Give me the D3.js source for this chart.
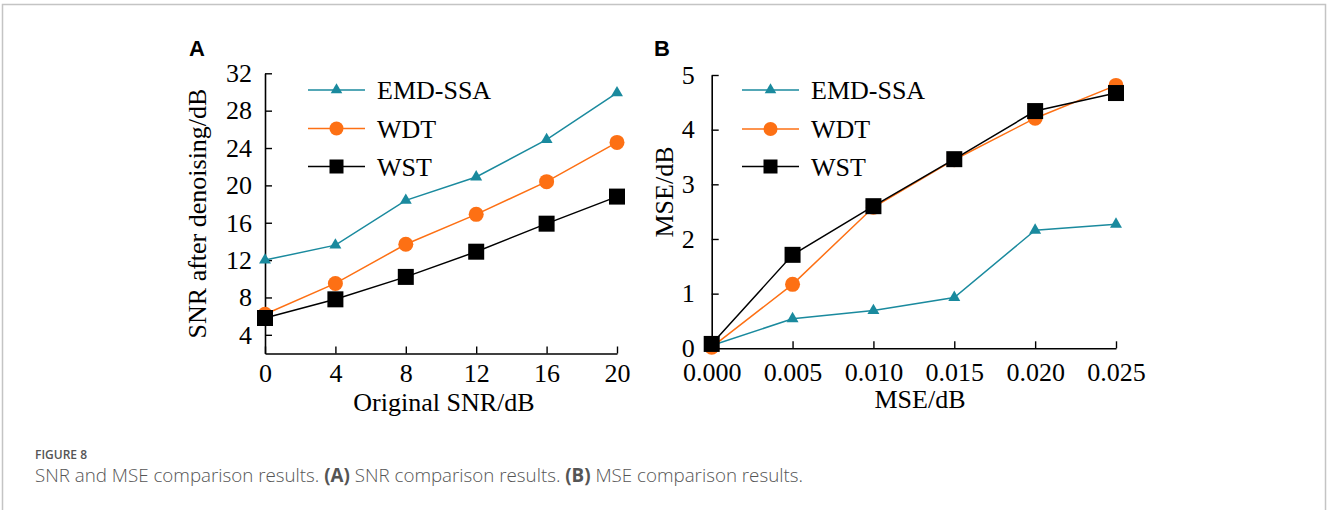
<!DOCTYPE html>
<html>
<head>
<meta charset="utf-8">
<script src="https://cdn.jsdelivr.net/npm/d3@7"></script>
<style>
  body { margin: 0; background: #fff; }
  svg { display: block; }
</style>
</head>
<body>
<svg id="fig" width="1328" height="510"></svg>
<script>
// panel A data
const snrIn = [0, 4, 8, 12, 16, 20];
const snrEmd = [12.0, 13.6, 18.4, 20.9, 24.9, 29.9];
const snrWdt = [6.2, 9.5, 13.7, 16.9, 20.4, 24.6];
const snrWst = [5.8, 7.8, 10.2, 12.9, 15.9, 18.8];
const snrTicksY = [4, 8, 12, 16, 20, 24, 28, 32];

// panel B data
const mseIn = [0, 0.005, 0.01, 0.015, 0.02, 0.025];
const mseEmd = [0.05, 0.54, 0.69, 0.93, 2.16, 2.27];
const mseWdt = [0.02, 1.17, 2.58, 3.45, 4.21, 4.81];
const mseWst = [0.08, 1.71, 2.6, 3.46, 4.34, 4.67];
const mseTicksY = [0, 1, 2, 3, 4, 5];

const seriesNames = ["EMD-SSA", "WDT", "WST"];
const teal = "#1a8a9e", orange = "#fd7014";
const serif = "'Liberation Serif', 'Times New Roman', serif";

const svg = d3.select("#fig");

// outer frame
svg.append("rect")
  .attr("x", 2.5).attr("y", 4.5)
  .attr("width", 1323).attr("height", 520)
  .attr("fill", "none").attr("stroke", "#c4c4c4").attr("stroke-width", 1.5);

const triangle = d3.symbol().type(d3.symbolTriangle);

function drawMarker(g, type, x, y, big) {
  if (type === "tri") {
    g.append("path").attr("d", triangle.size(big ? 62 : 58)())
      .attr("transform", `translate(${x},${y})`).attr("fill", teal);
  } else if (type === "circle") {
    g.append("circle").attr("cx", x).attr("cy", y).attr("r", big ? 7.5 : 7)
      .attr("fill", orange);
  } else {
    const s = big ? 16 : 14;
    g.append("rect").attr("x", x - s / 2).attr("y", y - s / 2)
      .attr("width", s).attr("height", s).attr("fill", "#000");
  }
}

function panel(opt) {
  const g = svg.append("g");
  const x = d3.scaleLinear().domain(opt.xDomain).range(opt.xRange);
  const y = d3.scaleLinear().domain(opt.yDomain).range(opt.yRange);

  const xAxis = g.append("g")
    .attr("transform", `translate(0,${opt.yRange[0]})`)
    .call(d3.axisBottom(x).tickValues(opt.xs).tickFormat(opt.xFormat)
      .tickSizeInner(-7).tickSizeOuter(0).tickPadding(opt.xPad));
  const yAxis = g.append("g")
    .attr("transform", `translate(${opt.xRange[0]},0)`)
    .call(d3.axisLeft(y).tickValues(opt.yTicks).tickFormat(d3.format("d"))
      .tickSizeInner(-7).tickSizeOuter(0).tickPadding(opt.yPad));

  [xAxis, yAxis].forEach(a => {
    a.select(".domain").attr("stroke", "#000").attr("stroke-width", 1.6);
    a.selectAll(".tick line").attr("stroke", "#000").attr("stroke-width", 1.4);
    a.selectAll("text").attr("font-family", serif).attr("font-size", 26).attr("fill", "#000");
  });

  const line = d3.line().x((d, i) => x(opt.xs[i])).y(d => y(d));
  const series = [
    { vals: opt.emd, color: teal, m: "tri" },
    { vals: opt.wdt, color: orange, m: "circle" },
    { vals: opt.wst, color: "#000", m: "square" }
  ];
  // lines first, then markers so WST sits on top
  series.forEach(s => {
    g.append("path").datum(s.vals).attr("d", line)
      .attr("fill", "none").attr("stroke", s.color).attr("stroke-width", 1.5);
  });
  series.forEach(s => {
    s.vals.forEach((v, i) => drawMarker(g, s.m, x(opt.xs[i]), y(v), true));
  });

  // legend
  series.forEach((s, i) => {
    const cy = opt.legY[i];
    g.append("line").attr("x1", opt.legX[0]).attr("x2", opt.legX[1])
      .attr("y1", cy).attr("y2", cy).attr("stroke", s.color).attr("stroke-width", 1.5);
    drawMarker(g, s.m, (opt.legX[0] + opt.legX[1]) / 2, cy, false);
    g.append("text").attr("x", opt.legX[1] + 12).attr("y", cy + 9)
      .attr("font-family", serif).attr("font-size", 26).text(seriesNames[i]);
  });

  // axis titles
  g.append("text").attr("x", opt.xTitle[0]).attr("y", opt.xTitle[1])
    .attr("text-anchor", "middle").attr("font-family", serif).attr("font-size", 26)
    .text(opt.xLabel);
  g.append("text")
    .attr("transform", `translate(${opt.yTitle[0]},${opt.yTitle[1]}) rotate(-90)`)
    .attr("text-anchor", "middle").attr("font-family", serif).attr("font-size", 26)
    .text(opt.yLabel);

  // panel letter
  g.append("text").attr("x", opt.letter[0]).attr("y", opt.letter[1])
    .attr("font-family", "'Liberation Sans', Arial, sans-serif").attr("font-weight", "bold")
    .attr("font-size", 22).text(opt.letter[2]);
}

panel({
  xs: snrIn, emd: snrEmd, wdt: snrWdt, wst: snrWst,
  xDomain: [0, 20], xRange: [265, 617],
  yDomain: [2, 32], yRange: [353.5, 73.3], yTicks: snrTicksY,
  xFormat: d3.format("d"), xPad: 10, yPad: 13,
  legX: [308, 365], legY: [90, 128.5, 166.5],
  xLabel: "Original SNR/dB", xTitle: [444, 411],
  yLabel: "SNR after denoising/dB", yTitle: [206, 213.5],
  letter: [189, 56, "A"]
});

panel({
  xs: mseIn, emd: mseEmd, wdt: mseWdt, wst: mseWst,
  xDomain: [0, 0.025], xRange: [711.7, 1116],
  yDomain: [0, 5], yRange: [348.3, 75], yTicks: mseTicksY,
  xFormat: d3.format(".3f"), xPad: 14, yPad: 17,
  legX: [742, 799], legY: [90, 129, 166.5],
  xLabel: "MSE/dB", xTitle: [920, 408],
  yLabel: "MSE/dB", yTitle: [673, 192],
  letter: [654, 56, "B"]
});

// caption
const capFont = "'Open Sans', 'Noto Sans', sans-serif";
svg.append("text").attr("x", 35).attr("y", 459)
  .attr("font-family", capFont).attr("font-size", 12).attr("font-weight", 600)
  .attr("fill", "#555").text("FIGURE 8");

const cap = svg.append("text").attr("x", 35).attr("y", 482)
  .attr("font-family", capFont).attr("font-size", 16).attr("fill", "#555");
const capParts = [
  ["SNR and MSE comparison results. ", false],
  ["(A)", true], [" SNR comparison results. ", false],
  ["(B)", true], [" MSE comparison results.", false]
];
capParts.forEach(p => {
  cap.append("tspan").attr("font-weight", p[1] ? 700 : 300).text(p[0]);
});
// fit the caption to its width in the reference
const w = cap.node().getComputedTextLength();
cap.attr("font-size", 16 * 768 / w);
</script>
</body>
</html>
